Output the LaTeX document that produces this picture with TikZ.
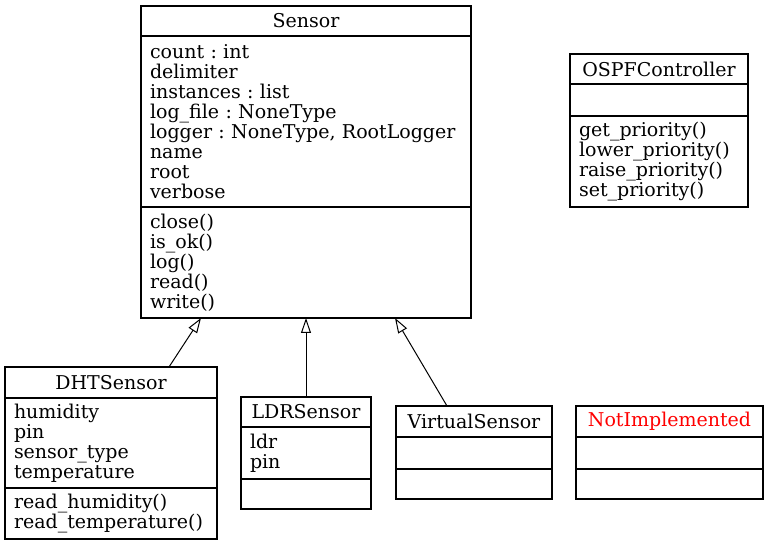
\documentclass[tikz,border=0pt]{standalone}
\usepackage{fontspec}
\setmainfont{DejaVu Serif}
\frenchspacing
\usetikzlibrary{arrows.meta, calc, positioning}
\definecolor{notimpl}{RGB}{255,0,0}

\tikzset{
  classbox/.style={draw, line width=1.1pt, anchor=north west, inner sep=0pt, outer sep=0pt,
                   font=\fontsize{19}{20}\selectfont},
  titlepart/.style={classbox, align=center},
  listpart/.style={classbox, align=left, inner xsep=9pt},
  inherits/.style={line width=1pt, -{Triangle[open, length=15pt, width=10pt]}}
}

\begin{document}
\begin{tikzpicture}[x=1pt, y=-1pt]
            \useasboundingbox (0,0) rectangle (774,545);

            % base class
            \node[titlepart, minimum width=330pt, minimum height=30pt] (sensorT) at (141,6) {Sensor};
            \node[listpart, text width=312pt, minimum height=171pt] (sensorA) at (sensorT.south west)
                {count : int\\delimiter\\instances : list\\log\_file : NoneType\\logger : NoneType, RootLogger\\name\\root\\verbose};
            \node[listpart, text width=312pt, minimum height=111pt] (sensorM) at (sensorA.south west)
                {close()\\is\_ok()\\log()\\read()\\write()};

            % controller
            \node[titlepart, minimum width=178pt, minimum height=30pt] (ospfT) at (570,54) {OSPFController};
            \node[listpart, text width=160pt, minimum height=32pt] (ospfA) at (ospfT.south west) {};
            \node[listpart, text width=160pt, minimum height=91pt] (ospfM) at (ospfA.south west)
                {get\_priority()\\lower\_priority()\\raise\_priority()\\set\_priority()};

            % subclasses
            \node[titlepart, minimum width=212pt, minimum height=31pt] (dhtT) at (5,367) {DHTSensor};
            \node[listpart, text width=194pt, minimum height=90pt] (dhtA) at (dhtT.south west)
                {humidity\\pin\\sensor\_type\\temperature};
            \node[listpart, text width=194pt, minimum height=51pt] (dhtM) at (dhtA.south west)
                {read\_humidity()\\read\_temperature()};

            \node[titlepart, minimum width=130pt, minimum height=30pt] (ldrT) at (241,397) {LDRSensor};
            \node[listpart, text width=112pt, minimum height=52pt] (ldrA) at (ldrT.south west) {ldr\\pin};
            \node[listpart, text width=112pt, minimum height=30pt] (ldrM) at (ldrA.south west) {};

            \node[titlepart, minimum width=156pt, minimum height=31pt] (virtT) at (396,406) {VirtualSensor};
            \node[listpart, text width=138pt, minimum height=32pt] (virtA) at (virtT.south west) {};
            \node[listpart, text width=138pt, minimum height=30pt] (virtM) at (virtA.south west) {};

            \node[titlepart, minimum width=187pt, minimum height=31pt, text=notimpl] (nimpT) at (576,406) {NotImplemented};
            \node[listpart, text width=169pt, minimum height=32pt] (nimpA) at (nimpT.south west) {};
            \node[listpart, text width=169pt, minimum height=30pt] (nimpM) at (nimpA.south west) {};

            % inheritance
            \draw[inherits] ([xshift=58pt]dhtT.north) -- ([xshift=-105pt]sensorM.south);
            \draw[inherits] (ldrT.north) -- (sensorM.south);
            \draw[inherits] ([xshift=-27pt]virtT.north) -- ([xshift=89pt]sensorM.south);
\end{tikzpicture}
\end{document}
